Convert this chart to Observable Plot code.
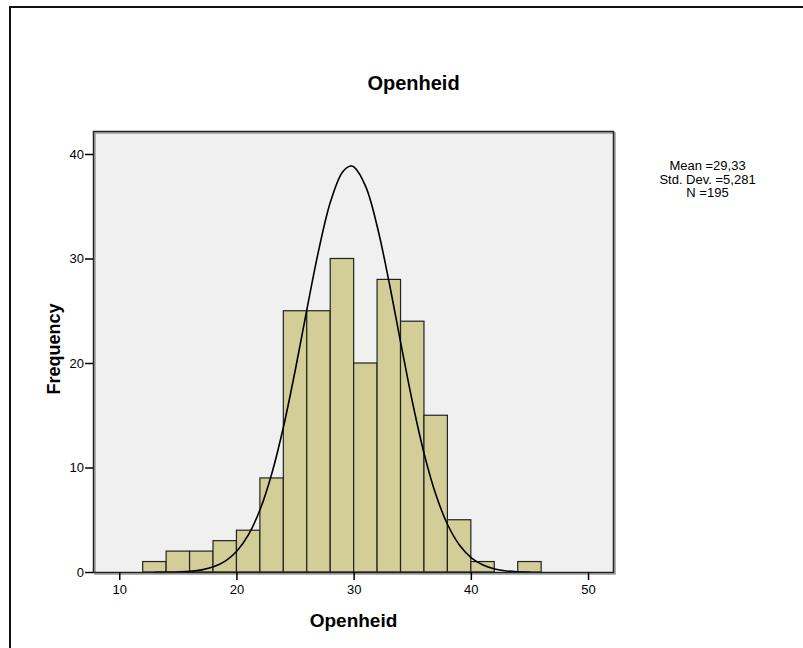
<!DOCTYPE html>
<html>
<head>
<meta charset="utf-8">
<script src="https://cdn.jsdelivr.net/npm/d3@7"></script>
<script src="https://cdn.jsdelivr.net/npm/@observablehq/plot@0.6"></script>
<style>
  html, body { margin: 0; padding: 0; background: #fff; }
  #wrap { position: relative; width: 803px; height: 648px; overflow: hidden; font-family: "Liberation Sans", Arial, sans-serif; }
  #border { position: absolute; left: 9px; top: 6px; width: 820px; height: 680px; border-left: 2px solid #111; border-top: 2px solid #111; box-sizing: border-box; }
  #chart { position: absolute; left: 0; top: 0; }
  #chart svg g[aria-label*="tick label"] text { font-size: 13px !important; }
</style>
</head>
<body>
<div id="wrap"><div id="border"></div><div id="chart"></div></div>
<script>
// ---- data ----
const title = "Openheid";
const xLabel = "Openheid";
const yLabel = "Frequency";
const binStarts = [12, 14, 16, 18, 20, 22, 24, 26, 28, 30, 32, 34, 36, 38, 40, 42, 44];
const binWidth = 2;
const counts    = [1, 2, 2, 3, 4, 9, 25, 25, 30, 20, 28, 24, 15, 5, 1, 0, 1];
const xTicks = [10, 20, 30, 40, 50];
const yTicks = [0, 10, 20, 30, 40];
const statMean = "29,33";
const statSd = "5,281";
const statN = 195;
// normal curve as drawn in the reference
const curveX = [13, 14, 15, 16, 17, 18, 19, 20, 21, 22, 23, 24, 25, 26, 27, 28, 29, 29.7, 30, 31, 32, 33, 34, 35, 36, 37, 38, 39, 40, 41, 42, 43, 44, 45];
const curveY = [0.01, 0.02, 0.05, 0.11, 0.25, 0.54, 1.09, 2.06, 3.65, 6.1, 9.57, 14.09, 19.5, 25.36, 30.97, 35.54, 38.31, 38.9, 38.79, 36.9, 32.97, 27.68, 21.83, 16.17, 11.25, 7.36, 4.52, 2.61, 1.41, 0.72, 0.34, 0.15, 0.065, 0.026];

const bars = binStarts.map((s, i) => ({x1: s, x2: s + binWidth, y: counts[i]})).filter(d => d.y > 0);
const curve = curveX.map((x, i) => ({x, y: curveY[i]}));
const legendText = `Mean =${statMean}\nStd. Dev. =${statSd}\nN =${statN}`;

const chart = Plot.plot({
  width: 803,
  height: 648,
  marginLeft: 93,
  marginRight: 190,
  marginTop: 131,
  marginBottom: 76,
  style: {fontFamily: '"Liberation Sans", Arial, sans-serif', fontSize: "13px", color: "#000", background: "transparent", overflow: "visible"},
  x: {domain: [7.76, 52.13]},
  y: {domain: [0, 42.2]},
  marks: [
    Plot.frame({fill: "#f0f0f0", stroke: null}),
    Plot.rectY(bars, {x1: "x1", x2: "x2", y: "y", fill: "#d3ce98", stroke: "#222", strokeWidth: 1.2}),
    Plot.line(curve, {x: "x", y: "y", stroke: "#000", strokeWidth: 1.6, curve: "catmull-rom"}),
    Plot.frame({stroke: "#9a9a9a", strokeWidth: 1.5, dx: 1.5, dy: 1.5}),
    Plot.frame({stroke: "#222", strokeWidth: 1.5}),
    Plot.axisX({ticks: xTicks, tickSize: 8, tickPadding: 4, label: null, fontSize: 13, stroke: "#000", strokeWidth: 1.5}),
    Plot.axisY({ticks: yTicks, tickSize: 8, tickPadding: 1.5, label: null, fontSize: 13, stroke: "#000", strokeWidth: 1.5}),
    Plot.text([title], {frameAnchor: "top-left", dx: 320, dy: -42, text: d => d, textAnchor: "middle", lineAnchor: "bottom", fontSize: 20, fontWeight: "bold", fill: "#000"}),
    Plot.text([xLabel], {frameAnchor: "bottom", dy: 54, text: d => d, textAnchor: "middle", lineAnchor: "bottom", fontSize: 19, fontWeight: "bold", fill: "#000"}),
    Plot.text([yLabel], {frameAnchor: "left", dx: -34, dy: -3, rotate: -90, text: d => d, textAnchor: "middle", lineAnchor: "bottom", fontSize: 18, fontWeight: "bold", fill: "#000"}),
    Plot.text([legendText], {frameAnchor: "top-left", dx: 614, dy: 29.3, text: d => d, textAnchor: "middle", lineAnchor: "top", lineHeight: 1.04, fontSize: 13, fill: "#000"})
  ]
});
d3.select(chart).selectAll('g[aria-label*="tick label"]').attr("font-size", 13).selectAll("text").attr("font-size", 13);
document.getElementById("chart").appendChild(chart);
</script>
</body>
</html>
